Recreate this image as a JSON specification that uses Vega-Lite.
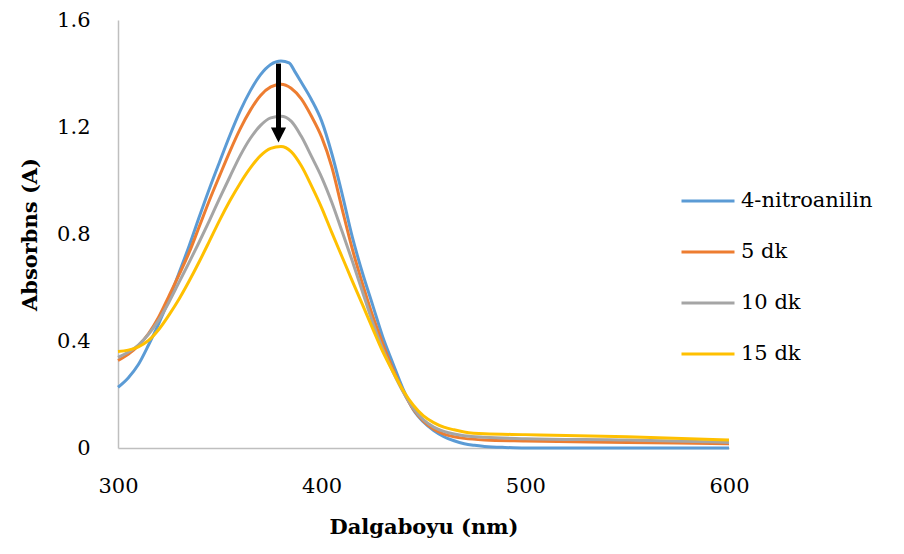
{
  "$schema": "https://vega.github.io/schema/vega-lite/v6.json",
  "width": 611,
  "height": 428,
  "autosize": "none",
  "padding": {"left": 118, "top": 20, "right": 175, "bottom": 106},
  "background": "white",
  "config": {
    "font": "DejaVu Serif",
    "view": {"stroke": null},
    "axis": {"grid": false, "ticks": false, "labelFlush": false, "domainColor": "#BFBFBF", "domainWidth": 1.5, "labelColor": "black", "titleColor": "black", "labelFont": "DejaVu Serif", "titleFont": "DejaVu Serif", "labelFontSize": 21, "titleFontSize": 21, "titleFontWeight": "bold"},
    "legend": {"labelFont": "DejaVu Serif", "labelFontSize": 21, "labelColor": "black"}
  },
  "datasets": {
    "spectra": [
      {"wl": 300, "abs": 0.227, "series": "4-nitroanilin"},
      {"wl": 305, "abs": 0.262, "series": "4-nitroanilin"},
      {"wl": 310, "abs": 0.312, "series": "4-nitroanilin"},
      {"wl": 315, "abs": 0.385, "series": "4-nitroanilin"},
      {"wl": 320, "abs": 0.465, "series": "4-nitroanilin"},
      {"wl": 325, "abs": 0.555, "series": "4-nitroanilin"},
      {"wl": 330, "abs": 0.655, "series": "4-nitroanilin"},
      {"wl": 335, "abs": 0.757, "series": "4-nitroanilin"},
      {"wl": 340, "abs": 0.866, "series": "4-nitroanilin"},
      {"wl": 345, "abs": 0.972, "series": "4-nitroanilin"},
      {"wl": 350, "abs": 1.072, "series": "4-nitroanilin"},
      {"wl": 355, "abs": 1.17, "series": "4-nitroanilin"},
      {"wl": 360, "abs": 1.26, "series": "4-nitroanilin"},
      {"wl": 365, "abs": 1.336, "series": "4-nitroanilin"},
      {"wl": 370, "abs": 1.396, "series": "4-nitroanilin"},
      {"wl": 375, "abs": 1.434, "series": "4-nitroanilin"},
      {"wl": 380, "abs": 1.447, "series": "4-nitroanilin"},
      {"wl": 384, "abs": 1.44, "series": "4-nitroanilin"},
      {"wl": 387, "abs": 1.405, "series": "4-nitroanilin"},
      {"wl": 390, "abs": 1.367, "series": "4-nitroanilin"},
      {"wl": 395, "abs": 1.302, "series": "4-nitroanilin"},
      {"wl": 400, "abs": 1.222, "series": "4-nitroanilin"},
      {"wl": 405, "abs": 1.1, "series": "4-nitroanilin"},
      {"wl": 410, "abs": 0.951, "series": "4-nitroanilin"},
      {"wl": 415, "abs": 0.79, "series": "4-nitroanilin"},
      {"wl": 420, "abs": 0.655, "series": "4-nitroanilin"},
      {"wl": 425, "abs": 0.535, "series": "4-nitroanilin"},
      {"wl": 430, "abs": 0.415, "series": "4-nitroanilin"},
      {"wl": 435, "abs": 0.316, "series": "4-nitroanilin"},
      {"wl": 440, "abs": 0.22, "series": "4-nitroanilin"},
      {"wl": 445, "abs": 0.143, "series": "4-nitroanilin"},
      {"wl": 450, "abs": 0.097, "series": "4-nitroanilin"},
      {"wl": 455, "abs": 0.065, "series": "4-nitroanilin"},
      {"wl": 460, "abs": 0.042, "series": "4-nitroanilin"},
      {"wl": 465, "abs": 0.027, "series": "4-nitroanilin"},
      {"wl": 470, "abs": 0.016, "series": "4-nitroanilin"},
      {"wl": 475, "abs": 0.01, "series": "4-nitroanilin"},
      {"wl": 480, "abs": 0.006, "series": "4-nitroanilin"},
      {"wl": 490, "abs": 0.002, "series": "4-nitroanilin"},
      {"wl": 500, "abs": 0.0, "series": "4-nitroanilin"},
      {"wl": 550, "abs": 0.0, "series": "4-nitroanilin"},
      {"wl": 600, "abs": 0.0, "series": "4-nitroanilin"},

      {"wl": 300, "abs": 0.327, "series": "5 dk"},
      {"wl": 305, "abs": 0.35, "series": "5 dk"},
      {"wl": 310, "abs": 0.382, "series": "5 dk"},
      {"wl": 315, "abs": 0.428, "series": "5 dk"},
      {"wl": 320, "abs": 0.49, "series": "5 dk"},
      {"wl": 325, "abs": 0.568, "series": "5 dk"},
      {"wl": 330, "abs": 0.648, "series": "5 dk"},
      {"wl": 335, "abs": 0.732, "series": "5 dk"},
      {"wl": 340, "abs": 0.83, "series": "5 dk"},
      {"wl": 345, "abs": 0.928, "series": "5 dk"},
      {"wl": 350, "abs": 1.02, "series": "5 dk"},
      {"wl": 355, "abs": 1.11, "series": "5 dk"},
      {"wl": 360, "abs": 1.193, "series": "5 dk"},
      {"wl": 365, "abs": 1.263, "series": "5 dk"},
      {"wl": 370, "abs": 1.318, "series": "5 dk"},
      {"wl": 375, "abs": 1.35, "series": "5 dk"},
      {"wl": 380, "abs": 1.36, "series": "5 dk"},
      {"wl": 385, "abs": 1.345, "series": "5 dk"},
      {"wl": 390, "abs": 1.305, "series": "5 dk"},
      {"wl": 395, "abs": 1.24, "series": "5 dk"},
      {"wl": 400, "abs": 1.162, "series": "5 dk"},
      {"wl": 405, "abs": 1.05, "series": "5 dk"},
      {"wl": 410, "abs": 0.895, "series": "5 dk"},
      {"wl": 415, "abs": 0.745, "series": "5 dk"},
      {"wl": 420, "abs": 0.615, "series": "5 dk"},
      {"wl": 425, "abs": 0.495, "series": "5 dk"},
      {"wl": 430, "abs": 0.39, "series": "5 dk"},
      {"wl": 435, "abs": 0.295, "series": "5 dk"},
      {"wl": 440, "abs": 0.212, "series": "5 dk"},
      {"wl": 445, "abs": 0.145, "series": "5 dk"},
      {"wl": 450, "abs": 0.1, "series": "5 dk"},
      {"wl": 455, "abs": 0.07, "series": "5 dk"},
      {"wl": 460, "abs": 0.052, "series": "5 dk"},
      {"wl": 465, "abs": 0.042, "series": "5 dk"},
      {"wl": 470, "abs": 0.036, "series": "5 dk"},
      {"wl": 480, "abs": 0.03, "series": "5 dk"},
      {"wl": 500, "abs": 0.026, "series": "5 dk"},
      {"wl": 550, "abs": 0.021, "series": "5 dk"},
      {"wl": 600, "abs": 0.016, "series": "5 dk"},

      {"wl": 300, "abs": 0.339, "series": "10 dk"},
      {"wl": 305, "abs": 0.358, "series": "10 dk"},
      {"wl": 310, "abs": 0.385, "series": "10 dk"},
      {"wl": 315, "abs": 0.425, "series": "10 dk"},
      {"wl": 320, "abs": 0.478, "series": "10 dk"},
      {"wl": 325, "abs": 0.545, "series": "10 dk"},
      {"wl": 330, "abs": 0.62, "series": "10 dk"},
      {"wl": 335, "abs": 0.695, "series": "10 dk"},
      {"wl": 340, "abs": 0.772, "series": "10 dk"},
      {"wl": 345, "abs": 0.852, "series": "10 dk"},
      {"wl": 350, "abs": 0.935, "series": "10 dk"},
      {"wl": 355, "abs": 1.015, "series": "10 dk"},
      {"wl": 360, "abs": 1.093, "series": "10 dk"},
      {"wl": 365, "abs": 1.158, "series": "10 dk"},
      {"wl": 370, "abs": 1.206, "series": "10 dk"},
      {"wl": 375, "abs": 1.234, "series": "10 dk"},
      {"wl": 380, "abs": 1.24, "series": "10 dk"},
      {"wl": 385, "abs": 1.222, "series": "10 dk"},
      {"wl": 390, "abs": 1.165, "series": "10 dk"},
      {"wl": 395, "abs": 1.09, "series": "10 dk"},
      {"wl": 400, "abs": 1.012, "series": "10 dk"},
      {"wl": 405, "abs": 0.918, "series": "10 dk"},
      {"wl": 410, "abs": 0.81, "series": "10 dk"},
      {"wl": 415, "abs": 0.7, "series": "10 dk"},
      {"wl": 420, "abs": 0.585, "series": "10 dk"},
      {"wl": 425, "abs": 0.47, "series": "10 dk"},
      {"wl": 430, "abs": 0.37, "series": "10 dk"},
      {"wl": 435, "abs": 0.285, "series": "10 dk"},
      {"wl": 440, "abs": 0.21, "series": "10 dk"},
      {"wl": 445, "abs": 0.148, "series": "10 dk"},
      {"wl": 450, "abs": 0.105, "series": "10 dk"},
      {"wl": 455, "abs": 0.078, "series": "10 dk"},
      {"wl": 460, "abs": 0.062, "series": "10 dk"},
      {"wl": 465, "abs": 0.052, "series": "10 dk"},
      {"wl": 470, "abs": 0.046, "series": "10 dk"},
      {"wl": 480, "abs": 0.04, "series": "10 dk"},
      {"wl": 500, "abs": 0.035, "series": "10 dk"},
      {"wl": 550, "abs": 0.03, "series": "10 dk"},
      {"wl": 600, "abs": 0.021, "series": "10 dk"},

      {"wl": 300, "abs": 0.361, "series": "15 dk"},
      {"wl": 305, "abs": 0.366, "series": "15 dk"},
      {"wl": 310, "abs": 0.378, "series": "15 dk"},
      {"wl": 315, "abs": 0.402, "series": "15 dk"},
      {"wl": 320, "abs": 0.443, "series": "15 dk"},
      {"wl": 325, "abs": 0.497, "series": "15 dk"},
      {"wl": 330, "abs": 0.557, "series": "15 dk"},
      {"wl": 335, "abs": 0.625, "series": "15 dk"},
      {"wl": 340, "abs": 0.698, "series": "15 dk"},
      {"wl": 345, "abs": 0.775, "series": "15 dk"},
      {"wl": 350, "abs": 0.853, "series": "15 dk"},
      {"wl": 355, "abs": 0.925, "series": "15 dk"},
      {"wl": 360, "abs": 0.99, "series": "15 dk"},
      {"wl": 365, "abs": 1.047, "series": "15 dk"},
      {"wl": 370, "abs": 1.093, "series": "15 dk"},
      {"wl": 375, "abs": 1.12, "series": "15 dk"},
      {"wl": 380, "abs": 1.127, "series": "15 dk"},
      {"wl": 385, "abs": 1.108, "series": "15 dk"},
      {"wl": 390, "abs": 1.055, "series": "15 dk"},
      {"wl": 395, "abs": 0.98, "series": "15 dk"},
      {"wl": 400, "abs": 0.898, "series": "15 dk"},
      {"wl": 405, "abs": 0.805, "series": "15 dk"},
      {"wl": 410, "abs": 0.715, "series": "15 dk"},
      {"wl": 415, "abs": 0.625, "series": "15 dk"},
      {"wl": 420, "abs": 0.537, "series": "15 dk"},
      {"wl": 425, "abs": 0.447, "series": "15 dk"},
      {"wl": 430, "abs": 0.36, "series": "15 dk"},
      {"wl": 435, "abs": 0.285, "series": "15 dk"},
      {"wl": 440, "abs": 0.215, "series": "15 dk"},
      {"wl": 445, "abs": 0.16, "series": "15 dk"},
      {"wl": 450, "abs": 0.12, "series": "15 dk"},
      {"wl": 455, "abs": 0.095, "series": "15 dk"},
      {"wl": 460, "abs": 0.078, "series": "15 dk"},
      {"wl": 465, "abs": 0.068, "series": "15 dk"},
      {"wl": 470, "abs": 0.06, "series": "15 dk"},
      {"wl": 480, "abs": 0.053, "series": "15 dk"},
      {"wl": 500, "abs": 0.05, "series": "15 dk"},
      {"wl": 520, "abs": 0.047, "series": "15 dk"},
      {"wl": 550, "abs": 0.042, "series": "15 dk"},
      {"wl": 600, "abs": 0.03, "series": "15 dk"}
    ],
    "arrow": [
      {"wl": 378.8, "start": 1.437, "end": 1.17}
    ]
  },
  "layer": [
    {
      "data": {"name": "spectra"},
      "mark": {"type": "line", "strokeWidth": 3, "interpolate": "monotone"},
      "encoding": {
        "x": {"field": "wl", "type": "quantitative", "scale": {"domain": [300, 600], "nice": false},
              "axis": {"values": [300, 400, 500, 600], "labelPadding": 27, "title": "Dalgaboyu (nm)", "titlePadding": 20}},
        "y": {"field": "abs", "type": "quantitative", "scale": {"domain": [0, 1.6], "nice": false},
              "axis": {"values": [0, 0.4, 0.8, 1.2, 1.6], "labelExpr": "datum.value == 0 ? '0' : format(datum.value, '.1f')", "labelPadding": 28, "title": "Absorbns (A)", "titlePadding": 16}},
        "color": {"field": "series", "type": "nominal",
                  "scale": {"domain": ["4-nitroanilin", "5 dk", "10 dk", "15 dk"], "range": ["#5B9BD5", "#ED7D31", "#A5A5A5", "#FFC000"]},
                  "legend": {"title": null, "orient": "none", "legendX": 562, "legendY": 153, "symbolType": "stroke", "symbolSize": 2809, "symbolStrokeWidth": 3, "labelOffset": 5, "rowPadding": 13}}
      }
    },
    {
      "data": {"name": "arrow"},
      "mark": {"type": "rule", "color": "black", "strokeWidth": 5},
      "encoding": {
        "x": {"field": "wl", "type": "quantitative"},
        "y": {"field": "start", "type": "quantitative"},
        "y2": {"field": "end"}
      }
    },
    {
      "data": {"name": "arrow"},
      "mark": {"type": "point", "shape": "M-1,-1L1,-1L0,1Z", "filled": true, "color": "black", "opacity": 1, "size": 230},
      "encoding": {
        "x": {"field": "wl", "type": "quantitative"},
        "y": {"field": "end", "type": "quantitative"}
      }
    }
  ]
}
